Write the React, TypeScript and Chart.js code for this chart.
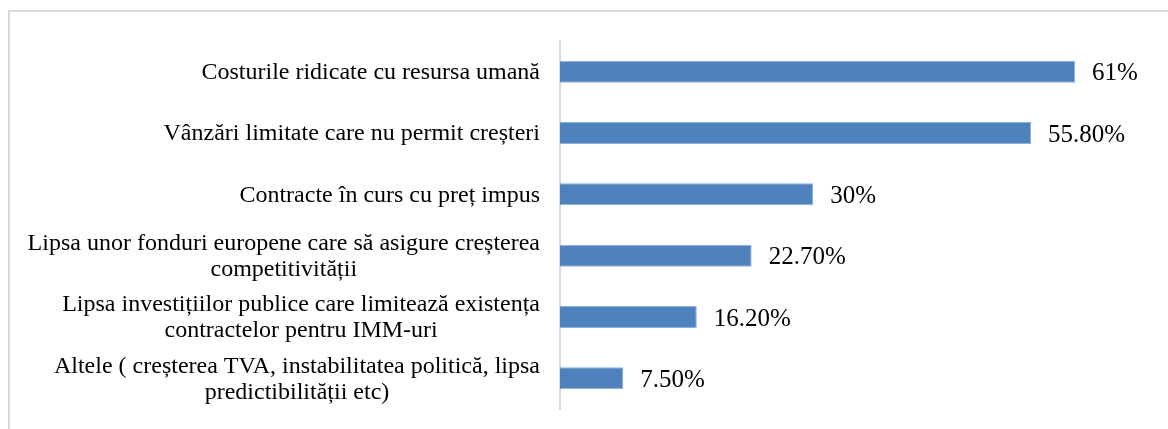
import React, { useEffect, useRef } from "react";
import { Chart, registerables } from "chart.js";

Chart.register(...registerables);

const categories: string[][] = [
  ["Costurile ridicate cu resursa umană"],
  ["Vânzări limitate care nu permit creșteri"],
  ["Contracte în curs cu preț impus"],
  ["Lipsa unor fonduri europene care să asigure creșterea", "competitivității"],
  ["Lipsa investițiilor publice care limitează existența", "contractelor pentru IMM-uri"],
  ["Altele ( creșterea TVA, instabilitatea politică, lipsa", "predictibilității etc)"],
];

const values: number[] = [61, 55.8, 30, 22.7, 16.2, 7.5];

const FONT = "'Liberation Serif', 'Times New Roman', serif";

function formatValue(v: number): string {
  return Number.isInteger(v) ? `${v}%` : `${v.toFixed(2)}%`;
}

const customDraw = {
  id: "customDraw",
  beforeDraw(chart: any) {
    const ctx = chart.ctx;
    ctx.save();
    ctx.strokeStyle = "#d9d9d9";
    ctx.lineWidth = 2;
    ctx.strokeRect(9, 11, 1200, 500);
    ctx.restore();
  },
  afterDraw(chart: any) {
    const ctx = chart.ctx;
    const yScale = chart.scales.y;
    const labels = chart.data.labels as string[][];
    ctx.save();
    ctx.fillStyle = "#000000";
    ctx.font = `24px ${FONT}`;
    ctx.textBaseline = "middle";
    ctx.textAlign = "center";
    const rightEdge = chart.chartArea.left - 20;
    const lineH = 26;
    labels.forEach((lines, i) => {
      const y = yScale.getPixelForValue(i);
      const maxW = Math.max(...lines.map((l) => ctx.measureText(l).width));
      const cx = rightEdge - maxW / 2;
      lines.forEach((line, j) => {
        ctx.fillText(line, cx, y + (j - (lines.length - 1) / 2) * lineH + 1);
      });
    });
    const meta = chart.getDatasetMeta(0);
    ctx.textAlign = "left";
    ctx.font = `25px ${FONT}`;
    meta.data.forEach((bar: any, i: number) => {
      const v = chart.data.datasets[0].data[i] as number;
      ctx.fillText(formatValue(v), bar.x + 17, bar.y + 2);
    });
    ctx.restore();
  },
};

export default function App() {
  const ref = useRef<HTMLCanvasElement | null>(null);

  useEffect(() => {
    if (!ref.current) return;
    const chart = new Chart(ref.current, {
      type: "bar",
      data: {
        labels: categories,
        datasets: [
          {
            data: values,
            backgroundColor: "#4f81bd",
            borderColor: "#8eaedb",
            borderWidth: 1,
            barPercentage: 0.36,
            categoryPercentage: 1,
          },
        ],
      },
      options: {
        indexAxis: "y",
        animation: false,
        responsive: false,
        layout: { padding: { left: 0, top: 41, right: 17, bottom: 20 } },
        plugins: {
          legend: { display: false },
          tooltip: { enabled: false },
        },
        scales: {
          x: {
            display: false,
            min: 0,
            max: 70,
          },
          y: {
            display: true,
            grid: { display: false },
            border: { display: true, color: "#d9d9d9", width: 2 },
            ticks: { display: false },
            afterFit(scale: any) {
              scale.width = 560;
            },
          },
        },
      },
      plugins: [customDraw],
    });
    return () => chart.destroy();
  }, []);

  return (
    <div style={{ position: "fixed", left: 0, top: 0, width: 1168, height: 429, background: "#fff" }}>
      <canvas ref={ref} width={1168} height={429} />
    </div>
  );
}
